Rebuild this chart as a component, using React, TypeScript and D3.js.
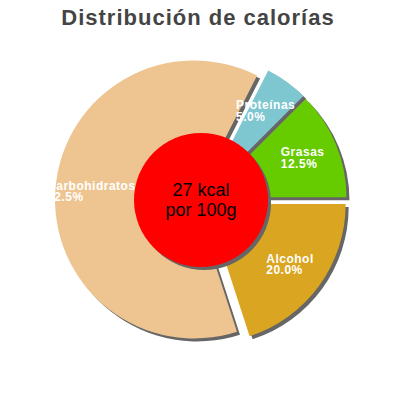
import { useEffect, useRef } from 'react'
import * as d3 from 'd3'

// slices in drawing order, clockwise from 3 o'clock
const categories = ['Alcohol', 'Carbohidratos', 'Proteínas', 'Grasas']
const percents = [20.0, 62.5, 5.0, 12.5]
const colors = ['#daa520', '#eec591', '#7ec6d0', '#66cc00']
const title = 'Distribución de calorías'
const centerLines = ['27 kcal', 'por 100g']

export default function App() {
  const svgRef = useRef<SVGSVGElement>(null)

  useEffect(() => {
    if (!svgRef.current) return
    const svg = d3.select(svgRef.current)
    svg.selectAll('*').remove()

    const width = 400
    const height = 400
    const cx = 201
    const cy = 200
    const radius = 139
    const explode = 7
    const shadow = 3

    svg.attr('width', width).attr('height', height)

    svg.append('text')
      .attr('x', 198)
      .attr('y', 25)
      .attr('text-anchor', 'middle')
      .style('font-family', '"Liberation Sans", Arial, sans-serif')
      .style('font-weight', 'bold')
      .style('font-size', '22px')
      .style('letter-spacing', '1px')
      .attr('fill', '#444')
      .text(title)

    const data = categories.map((c, i) => ({ name: c, value: percents[i], color: colors[i] }))
    const pie = d3.pie<typeof data[0]>()
      .sort(null)
      .value(d => d.value)
      .startAngle(Math.PI / 2)
      .endAngle(Math.PI / 2 + 2 * Math.PI)
    const arcs = pie(data)
    const arc = d3.arc<d3.PieArcDatum<typeof data[0]>>().innerRadius(0).outerRadius(radius)

    const offsetOf = (a: d3.PieArcDatum<typeof data[0]>, dist: number) => {
      const mid = (a.startAngle + a.endAngle) / 2
      return [Math.sin(mid) * dist, -Math.cos(mid) * dist]
    }

    const g = svg.append('g').attr('transform', `translate(${cx},${cy})`)

    // shadows
    arcs.forEach(a => {
      const [dx, dy] = offsetOf(a, explode)
      g.append('path')
        .attr('d', arc(a) || '')
        .attr('transform', `translate(${dx + shadow},${dy + shadow})`)
        .attr('fill', '#666')
    })

    // slices
    arcs.forEach(a => {
      const [dx, dy] = offsetOf(a, explode)
      g.append('path')
        .attr('d', arc(a) || '')
        .attr('transform', `translate(${dx},${dy})`)
        .attr('fill', a.data.color)
    })

    // labels
    arcs.forEach(a => {
      const [lx, ly] = offsetOf(a, 110)
      const t = g.append('text')
        .style('font-family', '"Liberation Sans", Arial, sans-serif')
        .style('font-weight', 'bold')
        .style('font-size', '12px')
        .style('letter-spacing', '0.5px')
        .attr('fill', '#fff')
      t.append('tspan').attr('x', 0).attr('y', 0).text(a.data.name)
      t.append('tspan').attr('x', 0).attr('y', 11.5).text(a.data.value.toFixed(1) + '%')
      const bb = (t.node() as SVGTextElement).getBBox()
      t.attr('transform', `translate(${lx - bb.x - bb.width / 2},${ly - bb.y - bb.height / 2})`)
    })

    // center circle
    g.append('circle').attr('cx', shadow).attr('cy', shadow).attr('r', 67).attr('fill', '#666')
    g.append('circle').attr('r', 67).attr('fill', '#ff0000')
    const ct = g.append('text')
      .attr('text-anchor', 'middle')
      .style('font-family', '"Liberation Sans", Arial, sans-serif')
      .style('font-size', '18px')
      .attr('fill', '#000')
    centerLines.forEach((line, i) => {
      ct.append('tspan').attr('x', 0).attr('y', -4 + i * 19.5).text(line)
    })
  }, [])

  return (
    <svg
      ref={svgRef}
      style={{ position: 'absolute', left: 0, top: 0, display: 'block', background: '#fff' }}
    />
  )
}
